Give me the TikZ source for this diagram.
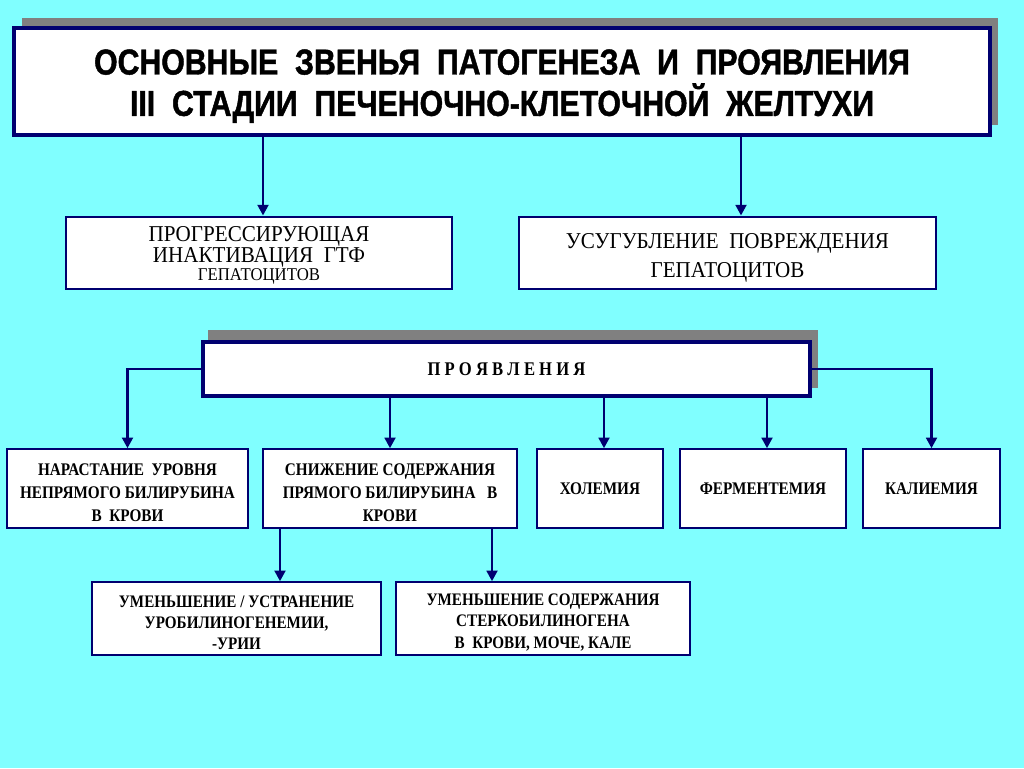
\documentclass[tikz,border=0pt]{standalone}
\usepackage{fontspec}
\setmainfont{Liberation Serif}
\newfontfamily\hfont{Liberation Sans}[FakeStretch=0.84,FakeBold=1.2]
\newfontfamily\sfont{Liberation Serif}[FakeStretch=0.86]
\newfontfamily\mfont{Liberation Serif}[FakeStretch=0.93]
\usetikzlibrary{arrows.meta}
\definecolor{bg}{HTML}{80FFFF}
\definecolor{navy}{HTML}{000070}
\definecolor{shade}{HTML}{808080}
\begin{document}
\begin{tikzpicture}[x=0.75pt,y=-0.75pt,
  heavybox/.style={draw=navy,line width=3pt,fill=white,inner sep=0pt,align=center},
  midbox/.style={draw=navy,line width=2.2pt,fill=white,inner sep=0pt},
  thinbox/.style={draw=navy,line width=1.1pt,fill=white,inner sep=0pt,align=center,
    minimum height=79*0.75pt,
    font=\sfont\bfseries\fontsize{13.3}{17.3}\selectfont},
  lowbox/.style={thinbox,minimum height=73*0.75pt},
  ltext/.style={align=center,inner sep=0pt,yshift=-3pt},
  rowtext/.style={ltext,font=\sfont\bfseries\fontsize{13.3}{17.3}\selectfont},
  lowtext/.style={ltext,font=\sfont\bfseries\fontsize{13.2}{15.8}\selectfont},
  conn/.style={draw=navy,line width=2pt},
  arr/.style={conn,-{Triangle[length=8pt,width=8pt]}},
  shadowfill/.style={fill=shade}]
\fill[bg] (0,0) rectangle (1024,768);
\useasboundingbox (0,0) rectangle (1024,768);
% title
\fill[shadowfill] (22,18) rectangle (998,125);
\node[heavybox, minimum width=976*0.75pt, minimum height=107*0.75pt]
  (title) at (502,81.5) {};
\node[ltext, yshift=-0.5pt, font=\hfont\bfseries\fontsize{27}{31}\selectfont]
  (title-t) at (title.center)
  {ОСНОВНЫЕ~ ЗВЕНЬЯ~ ПАТОГЕНЕЗА~ И~ ПРОЯВЛЕНИЯ\\III~ СТАДИИ~ ПЕЧЕНОЧНО-КЛЕТОЧНОЙ~ ЖЕЛТУХИ};
% second row
\node[midbox, minimum width=386*0.75pt, minimum height=72*0.75pt] (b1) at (259,253) {};
\node[ltext, yshift=1.2pt] (b1-t) at (b1.center)
  {\mfont\fontsize{17}{16.5}\selectfont ПРОГРЕССИРУЮЩАЯ\\
   \mfont\fontsize{17}{17}\selectfont ИНАКТИВАЦИЯ~ ГТФ\\
   \mfont\fontsize{13.5}{14.5}\selectfont ГЕПАТОЦИТОВ};
\node[midbox, minimum width=417*0.75pt, minimum height=72*0.75pt] (b2) at (727.5,253) {};
\node[ltext, yshift=-0.7pt, font=\mfont\fontsize{17}{22}\selectfont] (b2-t) at (b2.center)
  {УСУГУБЛЕНИЕ~ ПОВРЕЖДЕНИЯ\\ГЕПАТОЦИТОВ};
\draw[arr] (title.south -| 263,0) -- (b1.north -| 263,0);
\draw[arr] (title.south -| 741,0) -- (b2.north -| 741,0);
% manifestations
\fill[shadowfill] (208,330) rectangle (818,388);
\node[heavybox, minimum width=607*0.75pt, minimum height=54*0.75pt,
  font=\sfont\bfseries\fontsize{14.5}{16}\selectfont] (pr) at (506.5,369)
  {П~Р~О~Я~В~Л~Е~Н~И~Я};
% third row
\node[thinbox, minimum width=241*0.75pt] (nA) at (127.5,488.5) {};
\node[rowtext] (nA-t) at (nA.center)
  {НАРАСТАНИЕ~ УРОВНЯ\\НЕПРЯМОГО БИЛИРУБИНА\\В~ КРОВИ};
\node[thinbox, minimum width=254*0.75pt] (nB) at (390,488.5) {};
\node[rowtext] (nB-t) at (nB.center)
  {СНИЖЕНИЕ СОДЕРЖАНИЯ\\ПРЯМОГО БИЛИРУБИНА~~ В\\КРОВИ};
\node[thinbox, minimum width=126*0.75pt] (nC) at (600,488.5) {ХОЛЕМИЯ};
\node[thinbox, minimum width=166*0.75pt] (nD) at (763,488.5) {ФЕРМЕНТЕМИЯ};
\node[thinbox, minimum width=137*0.75pt] (nE) at (931.5,488.5) {КАЛИЕМИЯ};
\draw[arr] (pr.west) -| (nA.north);
\draw[arr] (pr.east) -| (nE.north);
\draw[arr] (pr.south -| nB.north) -- (nB.north);
\draw[arr] (pr.south -| 604,0) -- (nC.north -| 604,0);
\draw[arr] (pr.south -| 767,0) -- (nD.north -| 767,0);
% fourth row
\node[lowbox, minimum width=289*0.75pt] (nF) at (236.5,618.5) {};
\node[lowtext] (nF-t) at (nF.center)
  {УМЕНЬШЕНИЕ / УСТРАНЕНИЕ\\УРОБИЛИНОГЕНЕМИИ,\\-УРИИ};
\node[lowbox, minimum width=294*0.75pt] (nG) at (543,618.5) {};
\node[lowtext] (nG-t) at (nG.center)
  {УМЕНЬШЕНИЕ СОДЕРЖАНИЯ\\СТЕРКОБИЛИНОГЕНА\\В~ КРОВИ, МОЧЕ, КАЛЕ};
\draw[arr] (nB.south -| 280,0) -- (nF.north -| 280,0);
\draw[arr] (nB.south -| 492,0) -- (nG.north -| 492,0);
\end{tikzpicture}
\end{document}
